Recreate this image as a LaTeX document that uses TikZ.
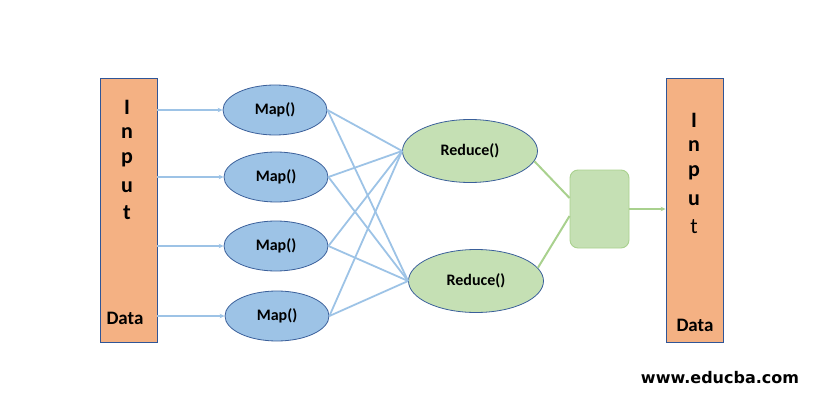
\documentclass[tikz,border=0pt]{standalone}
\usepackage{fontspec}
\setmainfont{Carlito}
\newfontfamily\urlfont{DejaVu Sans}
\usetikzlibrary{shapes.geometric,arrows.meta,calc}
\definecolor{boxfill}{HTML}{F4B183}
\definecolor{boxline}{HTML}{2F5597}
\definecolor{mapfill}{HTML}{9DC3E6}
\definecolor{mapline}{HTML}{3A5F9A}
\definecolor{redfill}{HTML}{C5E0B4}
\definecolor{greenline}{HTML}{A9D18E}
\definecolor{blueline}{HTML}{9DC3E6}
\tikzset{
  databox/.style={draw=boxline,fill=boxfill,line width=0.9pt,minimum width=57pt,minimum height=264pt,inner sep=0pt},
  mapnode/.style={ellipse,draw=mapline,fill=mapfill,line width=0.8pt,minimum width=104pt,minimum height=50pt,inner sep=0pt,font=\fontsize{16}{18}\selectfont\bfseries},
  rednode/.style={ellipse,draw=mapline,fill=redfill,line width=0.8pt,minimum width=135pt,minimum height=63pt,inner sep=0pt,font=\fontsize{16}{18}\selectfont\bfseries},
  combbox/.style={draw=greenline,fill=redfill,rounded corners=8pt,line width=0.9pt,minimum width=59pt,minimum height=78pt,inner sep=0pt},
  letter/.style={font=\fontsize{22}{24}\selectfont\bfseries,inner sep=0pt},
  datalbl/.style={font=\fontsize{19}{21}\selectfont\bfseries,inner sep=0pt},
  barr/.style={draw=blueline,line width=1.8pt,-{Stealth[length=5pt,width=4.5pt]}},
  bline/.style={draw=blueline,line width=1.8pt},
  gline/.style={draw=greenline,line width=2pt},
  garr/.style={draw=greenline,line width=2pt,-{Stealth[length=5pt,width=4.5pt]}},
}
\begin{document}
\begin{tikzpicture}[x=1pt,y=-1pt]
\useasboundingbox (0,0) rectangle (814,404);
% boxes
\node[databox] (inbox) at (128.5,210) {};
\node[databox] (outbox) at (694.5,210) {};
% left letters
\node[letter] (l1) at (127,107) {I};
\node[letter] (l2) at (127,133) {n};
\node[letter] (l3) at (127,160) {p};
\node[letter] (l4) at (127,187) {u};
\node[letter] (l5) at (127,213) {t};
\node[datalbl] (ld) at (125,318) {Data};
% right letters
\node[letter] (r1) at (694,120) {I};
\node[letter] (r2) at (694,146) {n};
\node[letter] (r3) at (694,173) {p};
\node[letter] (r4) at (694,200) {u};
\node[letter,font=\fontsize{22}{24}\selectfont] (r5) at (694,227) {t};
\node[datalbl] (rd) at (695,325) {Data};
% maps
\node[mapnode] (m1) at (275,110) {Map()};
\node[mapnode] (m2) at (276,177) {Map()};
\node[mapnode] (m3) at (276,246) {Map()};
\node[mapnode] (m4) at (277,316) {Map()};
% reduces
\node[rednode] (rd1) at (470,151) {Reduce()};
\node[rednode] (rd2) at (476,281) {Reduce()};
% combine box
\node[combbox] (cb) at (599.5,209) {};
% arrows from input
\draw[barr] (m1.west -| inbox.east) -- (m1.west);
\draw[barr] (m2.west -| inbox.east) -- (m2.west);
\draw[barr] (m3.west -| inbox.east) -- (m3.west);
\draw[barr] (m4.west -| inbox.east) -- (m4.west);
% map to reduce
\foreach \m in {m1,m2,m3,m4}{
  \draw[bline] (\m.east) -- (rd1.west);
  \draw[bline] (\m.east) -- (rd2.west);
}
% reduce to combine
\draw[gline] (rd1.-9) -- ($(cb.west)+(0,-11)$);
\draw[gline] (rd2.12) -- ($(cb.west)+(0,7)$);
\draw[garr] (cb.east) -- (cb.east -| outbox.west);
% url
\node[font=\urlfont\fontsize{16}{18}\selectfont\bfseries,inner sep=0pt] (url) at (720,378) {www.educba.com};
\end{tikzpicture}
\end{document}
